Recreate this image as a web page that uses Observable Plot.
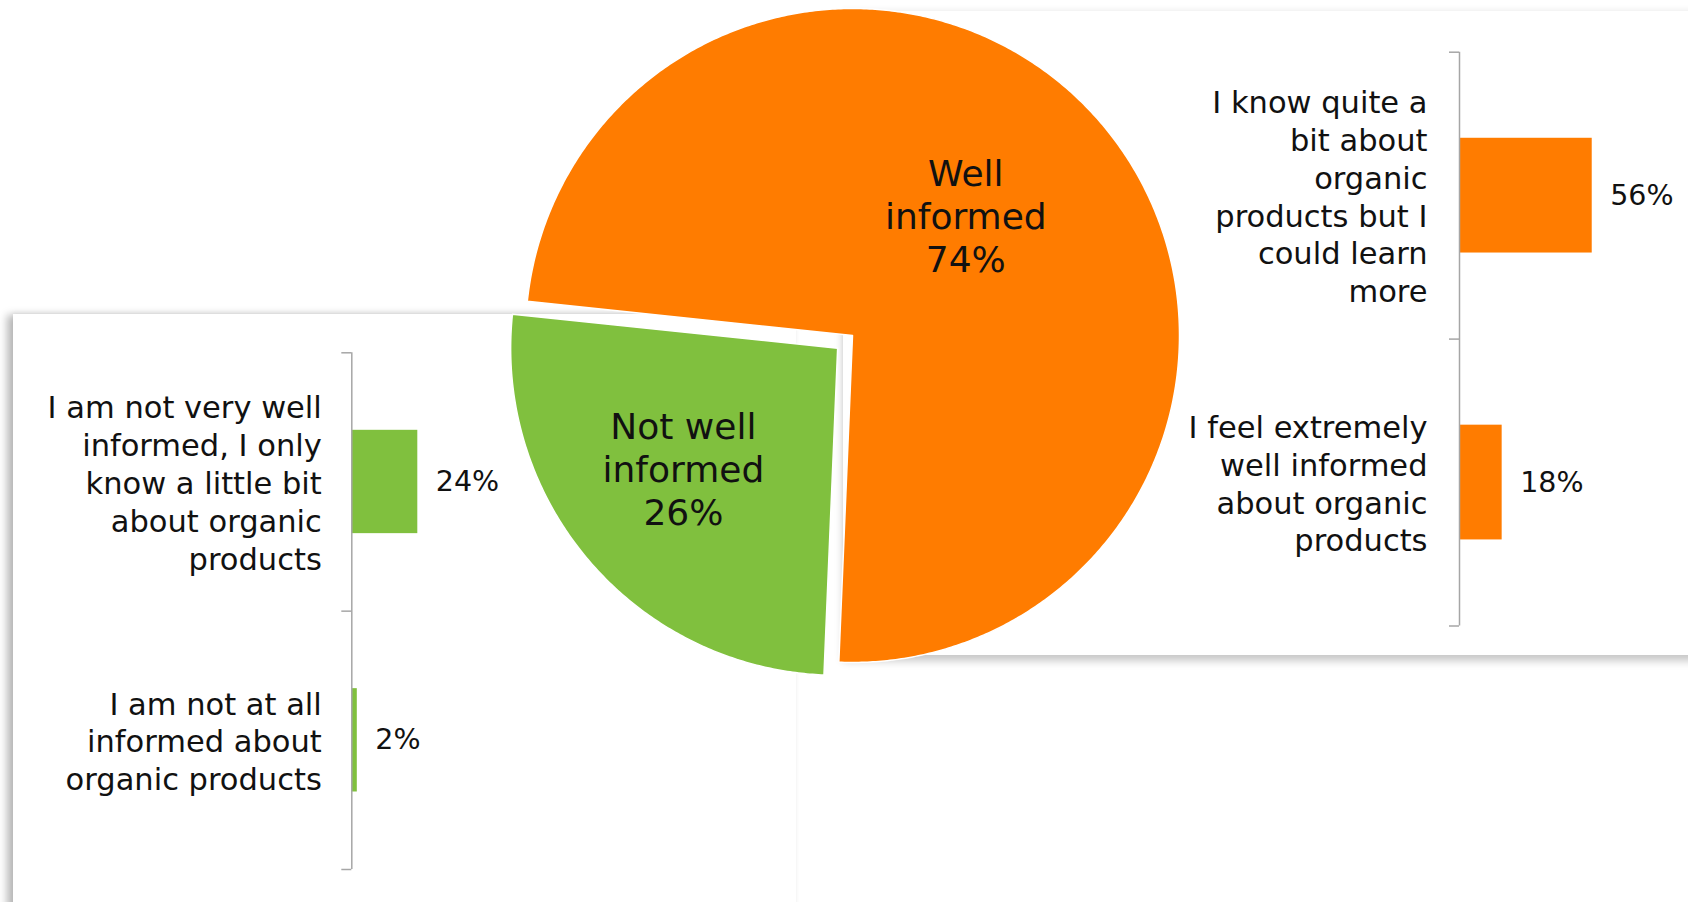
<!DOCTYPE html>
<html>
<head>
<meta charset="utf-8">
<script src="https://cdn.jsdelivr.net/npm/d3@7"></script>
<script src="https://cdn.jsdelivr.net/npm/@observablehq/plot@0.6"></script>
<style>
  html, body { margin: 0; padding: 0; background: #fff; }
  #page { position: relative; width: 1688px; height: 902px; overflow: hidden; background: #fff; }
  .panel { position: absolute; background: #fff; }
  .layer { position: absolute; }
  .layer svg { overflow: visible; }
</style>
</head>
<body>
<div id="page">
  <div class="panel" id="leftPanel"></div>
  <div class="panel" id="rightPanel"></div>
</div>
<script>
// ---------- DATA ----------
const pieCategories = ["Well informed", "Not well informed"];
const pieValues = [74, 26];

const wellCategories = [
  "I know quite a\nbit about\norganic\nproducts but I\ncould learn\nmore",
  "I feel extremely\nwell informed\nabout organic\nproducts"
];
const wellValues = [56, 18];

const notWellCategories = [
  "I am not very well\ninformed, I only\nknow a little bit\nabout organic\nproducts",
  "I am not at all\ninformed about\norganic products"
];
const notWellValues = [24, 2];

// ---------- STYLE / LAYOUT ----------
const ORANGE = "#ff7c00";
const GREEN = "#80c03e";
const AXIS = "#a6a6a6";
const INK = "#111";
const FONT = "DejaVu Sans";
const pieColors = [ORANGE, GREEN];
const page = document.getElementById("page");

Object.assign(document.getElementById("leftPanel").style, {
  left: "13px", top: "314px", width: "783px", height: "640px",
  boxShadow: "-6px 1px 8px rgba(0,0,0,0.28), 0 -2px 4px rgba(0,0,0,0.04)"
});
Object.assign(document.getElementById("rightPanel").style, {
  left: "843px", top: "11px", width: "900px", height: "644px",
  boxShadow: "0 6px 8px rgba(0,0,0,0.22), 0 -3px 5px rgba(0,0,0,0.04)"
});

function addLayer(node, left, top) {
  const d = document.createElement("div");
  d.className = "layer";
  d.style.left = left + "px";
  d.style.top = top + "px";
  d.appendChild(node);
  page.appendChild(d);
}

// ---------- BAR CHARTS ----------
function barChart(cats, vals, color, o) {
  const rows = cats.map((c, i) => ({label: c, value: vals[i], i}));
  return Plot.plot({
    width: o.width, height: o.height,
    marginLeft: o.ml, marginRight: o.mr, marginTop: o.mt, marginBottom: o.mb,
    style: {background: "transparent", overflow: "visible"},
    x: {domain: o.xDomain, axis: null},
    y: {domain: [0, cats.length], reverse: true},
    marks: [
      Plot.rectX(rows, {x1: 0, x2: "value", y1: d => d.i + 0.3, y2: d => d.i + 0.7, fill: color}),
      Plot.ruleX([0], {y1: 0, y2: cats.length, stroke: AXIS, strokeWidth: 1.5}),
      Plot.axisY({ticks: d3.range(cats.length + 1), tickSize: 10, tickFormat: () => "", stroke: AXIS, strokeWidth: 1.5}),
      Plot.text(rows, {x: 0, y: d => d.i + 0.5, text: "label", textAnchor: "end", dx: o.labelGap,
        fontSize: 30.5, lineHeight: 1.24, fontFamily: FONT, fill: INK}),
      Plot.text(rows, {x: "value", y: d => d.i + 0.5, text: d => d.value + "%", textAnchor: "start", dx: 18,
        fontSize: 28.5, fontFamily: FONT, fill: INK})
    ]
  });
}

addLayer(barChart(notWellCategories, notWellValues, GREEN, {
  width: 800, height: 902, ml: 351.3, mr: 800 - 351.3 - 275, mt: 352.3, mb: 902 - 869,
  xDomain: [0, 100], labelGap: -30
}), 0, 0);

addLayer(barChart(wellCategories, wellValues, ORANGE, {
  width: 1688, height: 902, ml: 1459, mr: 1688 - 1459 - 189.6, mt: 51.7, mb: 902 - 625.5,
  xDomain: [0, 80], labelGap: -32
}), 0, 0);

// ---------- PIE ----------
const R = 327, S = 720, half = S / 2 / R;
const startDeg = 276;            // first slice (Well informed) starts here, clockwise from 12 o'clock
const explode = [0, 0.06];
const labelPlacement = [{shift: -6, r: 0.506}, {shift: 3, r: 0.597}];
const total = d3.sum(pieValues);
const rad = deg => deg * Math.PI / 180;

let acc = startDeg;
const slices = pieCategories.map((name, i) => {
  const a0 = acc, a1 = acc + pieValues[i] / total * 360;
  acc = a1;
  const mid = (a0 + a1) / 2;
  const ox = explode[i] * Math.sin(rad(mid)), oy = explode[i] * Math.cos(rad(mid));
  return {name, value: pieValues[i], color: pieColors[i], a0, a1, mid, ox, oy};
});

const piePts = [];
slices.forEach(s => {
  piePts.push({name: s.name, color: s.color, x: s.ox, y: s.oy});
  const n = Math.ceil((s.a1 - s.a0) * 2);
  for (let k = 0; k <= n; k++) {
    const a = rad(s.a0 + (s.a1 - s.a0) * k / n);
    piePts.push({name: s.name, color: s.color, x: s.ox + Math.sin(a), y: s.oy + Math.cos(a)});
  }
  piePts.push({name: s.name, color: s.color, x: s.ox, y: s.oy});
});

const pieLabels = slices.map((s, i) => {
  const p = labelPlacement[i], a = rad(s.mid + p.shift);
  return {text: s.name.replace(/ (informed)$/, "\n$1") + "\n" + s.value + "%",
          x: s.ox + p.r * Math.sin(a), y: s.oy + p.r * Math.cos(a)};
});

addLayer(Plot.plot({
  width: S, height: S, margin: 0,
  style: {background: "transparent", overflow: "visible"},
  x: {domain: [-half, half], axis: null},
  y: {domain: [-half, half], axis: null},
  color: {type: "identity"},
  marks: [
    Plot.line(piePts, {x: "x", y: "y", z: "name", fill: "color", stroke: "#fff", strokeWidth: 1.5, curve: "linear-closed"}),
    Plot.text(pieLabels, {x: "x", y: "y", text: "text", fontSize: 36, lineHeight: 1.2, fontFamily: FONT, fill: INK})
  ]
}), 852.3 - S / 2, 335 - S / 2);
</script>
</body>
</html>
